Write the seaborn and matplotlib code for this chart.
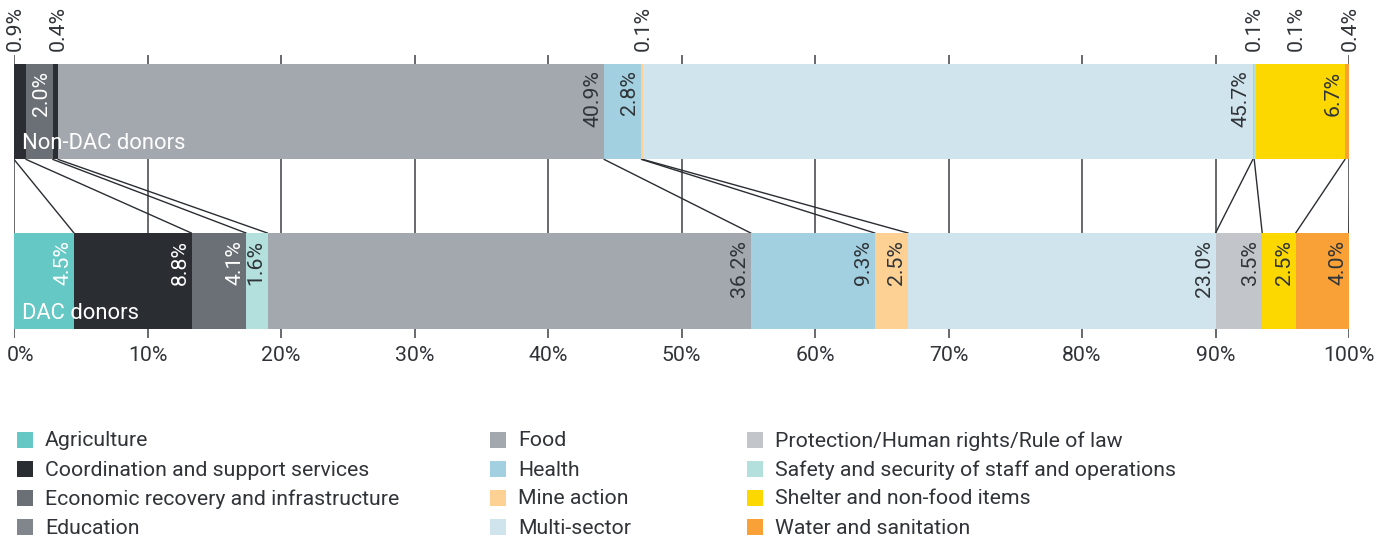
import matplotlib
matplotlib.use("Agg")
import matplotlib.pyplot as plt
from matplotlib.patches import Rectangle
from matplotlib.transforms import offset_copy, ScaledTranslation
import seaborn as sns
import numpy as np

# ---- data -------------------------------------------------------------
groups = ["Non-DAC donors", "DAC donors"]
sectors = [
    "Agriculture",
    "Coordination and support services",
    "Economic recovery and infrastructure",
    "Education",
    "Food",
    "Health",
    "Mine action",
    "Multi-sector",
    "Protection/Human rights/Rule of law",
    "Safety and security of staff and operations",
    "Shelter and non-food items",
    "Water and sanitation",
]
non_dac_share = [0.0, 0.9, 2.0, 0.4, 40.9, 2.8, 0.1, 45.7, 0.1, 0.1, 6.7, 0.4]
dac_share = [4.5, 8.8, 4.1, 1.6, 36.2, 9.3, 2.5, 23.0, 3.5, 0.0, 2.5, 4.0]
xtick_values = [0, 10, 20, 30, 40, 50, 60, 70, 80, 90, 100]

# ---- styling ----------------------------------------------------------
W, H, DPI = 1395, 540, 100
sns.set_theme(style="white")
plt.rcParams["font.family"] = ["Roboto", "DejaVu Sans"]
TEXT = "#303438"
FS = 15.3

palette = {
    "Agriculture": "#66c8c4",
    "Coordination and support services": "#2a2d32",
    "Economic recovery and infrastructure": "#6a7076",
    "Education": "#80868b",
    "Food": "#a2a8ae",
    "Health": "#a2d0e0",
    "Mine action": "#fdd194",
    "Multi-sector": "#cfe4ec",
    "Protection/Human rights/Rule of law": "#c2c6ca",
    "Safety and security of staff and operations": "#b3e0dc",
    "Shelter and non-food items": "#fcd800",
    "Water and sanitation": "#f9a037",
}
# segment fills per bar (education strip is shaded differently in each bar)
bar_palettes = {
    "Non-DAC donors": {**palette, "Education": palette["Coordination and support services"]},
    "DAC donors": {**palette, "Education": palette["Safety and security of staff and operations"]},
}
light_text_on = {
    "Agriculture",
    "Coordination and support services",
    "Economic recovery and infrastructure",
}

fig = plt.figure(figsize=(W / DPI, H / DPI), dpi=DPI)
ax = fig.add_axes([14 / W, 1 - 338 / H, (1349 - 14) / W, (338 - 55) / H])

BAR_W = 0.565
shares = {"Non-DAC donors": non_dac_share, "DAC donors": dac_share}
ends = {g: np.cumsum(shares[g]) for g in groups}

# stacked bars: draw cumulative totals from the outermost segment inwards
for g in groups:
    for i in range(len(sectors) - 1, -1, -1):
        if shares[g][i] <= 0:
            continue
        sns.barplot(
            x=[ends[g][i]], y=[g], order=groups, orient="h",
            color=bar_palettes[g][sectors[i]], saturation=1,
            width=BAR_W, linewidth=0, ax=ax, zorder=2,
        )

ax.set_xlim(0, 100)
ax.set_ylim(1 + (338 - 281) / 169.5, -(111.5 - 55) / 169.5)

# vertical gridlines behind the bars
ax.set_xticks(xtick_values)
ax.set_xticklabels([f"{v}%" for v in xtick_values])
ax.xaxis.grid(True, color="#3c4045", linewidth=1.1)
ax.yaxis.grid(False)
ax.set_axisbelow(True)
for s in ax.spines.values():
    s.set_visible(False)
ax.set_yticks([])
ax.set_xlabel("")
ax.set_ylabel("")
ax.tick_params(axis="x", length=0, pad=6, labelsize=FS, labelcolor=TEXT)
first = ax.get_xticklabels()[0]
first.set_transform(first.get_transform() + ScaledTranslation(7 / DPI, 0, fig.dpi_scale_trans))

# lines linking each sector's end in the two bars
top_edge = 0 + BAR_W / 2
bot_edge = 1 - BAR_W / 2
for i, s in enumerate(sectors):
    if non_dac_share[i] > 0 and dac_share[i] > 0 or s == "Agriculture":
        ax.plot([ends["Non-DAC donors"][i], ends["DAC donors"][i]],
                [top_edge, bot_edge], color="#2a2d32", lw=1.0, zorder=1.5)

# value labels
outside_nudge = {  # horizontal nudges (px) for the crowded small labels
    ("Non-DAC donors", "Coordination and support services"): -11,
    ("Non-DAC donors", "Safety and security of staff and operations"): 41,
}
for gi, g in enumerate(groups):
    for i, s in enumerate(sectors):
        v = shares[g][i]
        if v <= 0:
            continue
        x_end = ends[g][i]
        label = f"{v:.1f}%"
        if v < 1:
            dx = outside_nudge.get((g, s), 0)
            tr = offset_copy(ax.transData, fig=fig, x=dx * 72 / DPI,
                             y=13 * 72 / DPI, units="points")
            ax.text(x_end, gi - BAR_W / 2, label, rotation=90, ha="center",
                    va="bottom", fontsize=FS, color=TEXT, transform=tr, clip_on=False)
        else:
            tr = offset_copy(ax.transData, fig=fig, x=-2 * 72 / DPI,
                             y=-7 * 72 / DPI, units="points")
            col = "white" if s in light_text_on else TEXT
            ax.text(x_end, gi - BAR_W / 2, label, rotation=90, ha="right", va="top",
                    fontsize=FS, color=col, transform=tr, zorder=4)

# group names inside the bars
for gi, g in enumerate(groups):
    tr = offset_copy(ax.transData, fig=fig, x=8 * 72 / DPI, y=5 * 72 / DPI, units="points")
    ax.text(0, gi + BAR_W / 2, g, ha="left", va="bottom", fontsize=15.8,
            color="white", transform=tr, zorder=4)

# legend in three columns
col_x = [17, 490, 747]
row_y = [440, 469, 498, 527]
for k, s in enumerate(sectors):
    c, r = divmod(k, 4)
    x0, yc = col_x[c], row_y[r]
    fig.add_artist(Rectangle((x0 / W, 1 - (yc + 8) / H), 16 / W, 16 / H,
                             transform=fig.transFigure, facecolor=palette[s],
                             edgecolor="none"))
    fig.text((x0 + 28) / W, 1 - (yc + 1) / H, s, ha="left", va="center",
             fontsize=FS, color=TEXT)

fig.savefig("out.png", dpi=DPI)
